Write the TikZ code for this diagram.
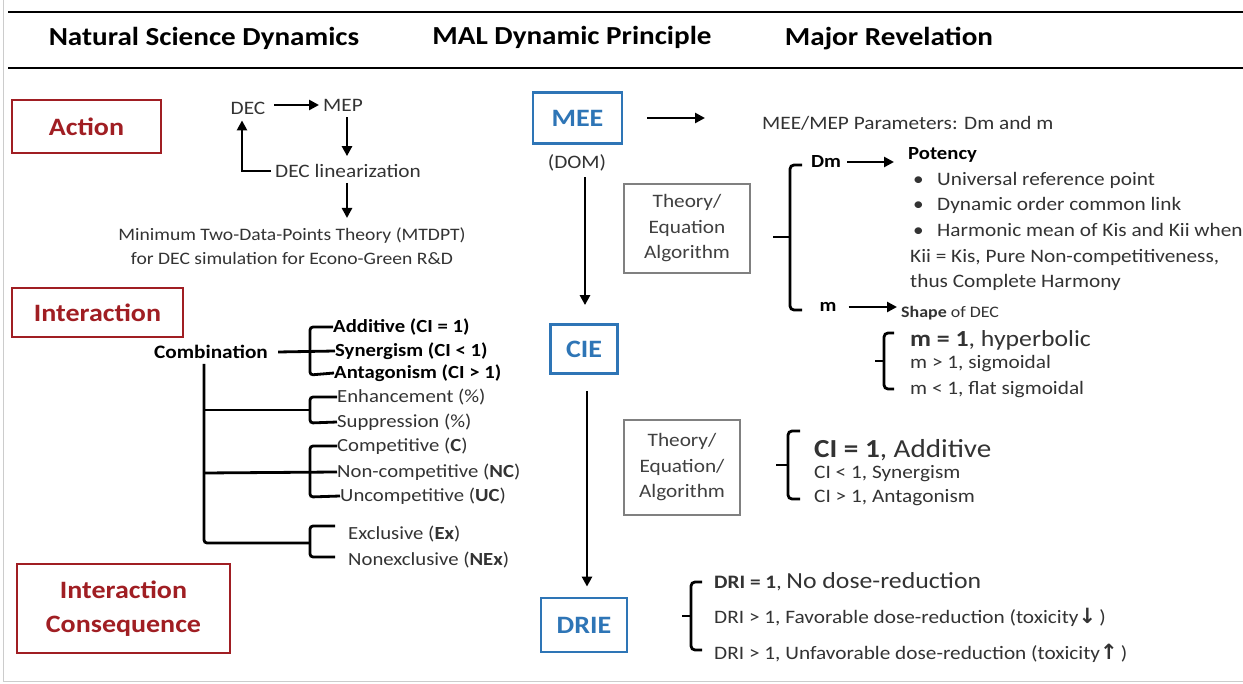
\documentclass[tikz,border=0pt]{standalone}
\usepackage{fontspec}
\setmainfont{Carlito}[FakeStretch=1.12]
\newfontfamily\djv{DejaVu Sans}
\usetikzlibrary{arrows.meta,calc}
\definecolor{myred}{HTML}{A01E23}
\definecolor{myblue}{HTML}{2E75B6}
\definecolor{txt}{HTML}{333333}
\definecolor{boxgray}{HTML}{808080}
\newcommand\fsz[2]{\fontsize{#1}{#2}\selectfont}
\newcommand\brk[6]{\draw[ln,rounded corners=4pt] (#6,#2) -- (#1,#2) -- (#1,#3) -- (#6,#3); \draw[ln] (#5,#4) -- (#1,#4);}
\begin{document}
\begin{tikzpicture}[x=1pt,y=-1pt,
  redbox/.style={draw=myred,line width=2.8pt,text=myred,font=\fsz{25}{34}\bfseries,align=center,inner sep=0pt},
  bluebox/.style={draw=myblue,line width=2.8pt,text=myblue,font=\fsz{25}{29}\bfseries,inner sep=0pt},
  graybox/.style={draw=boxgray,line width=1.3pt,text=black!75,font=\fsz{19}{25.5},align=center,inner sep=0pt},
  hd/.style={font=\fsz{26}{30}\bfseries,inner sep=0pt},
  tx/.style={text=txt,font=\fsz{19}{23},inner sep=0pt,anchor=west},
  tb/.style={text=black,font=\fsz{18.5}{22}\bfseries,inner sep=0pt,anchor=west},
  ln/.style={line width=2.8pt},
  arr/.style={line width=2.5pt,-{Triangle[length=10pt,width=10pt]}},
]
\useasboundingbox (0,0) rectangle (1243,684);
\fill[white] (0,0) rectangle (1243,684);
\draw[black!20,line width=1pt] (3,0) -- (3,681) -- (1243,681);

% header
\draw[line width=2.6pt] (8,12) -- (1243,12);
\draw[line width=2.6pt] (8,68) -- (1243,68);
\node[hd] (h1) at (204,38) {Natural Science Dynamics};
\node[hd] (h2) at (572,37) {MAL Dynamic Principle};
\node[hd] (h3) at (889,39) {Major Revelation};

% red boxes
\node[redbox,minimum width=149pt,minimum height=53pt] (action) at (86.5,126.5) {Action};
\node[redbox,minimum width=171pt,minimum height=49pt] (inter) at (97.5,312.5) {Interaction};
\node[redbox,minimum width=213pt,minimum height=89pt] (cons) at (123.5,608.5) {Interaction\\Consequence};

% action loop
\node[tx,anchor=center] (dec) at (248,108) {DEC};
\node[tx,anchor=center] (mep) at (343,105) {MEP};
\node[tx] (declin) at (275,171) {DEC linearization};
\node[tx,anchor=center,font=\fsz{17.5}{22}] (mt1) at (292,236) {Minimum Two-Data-Points Theory (MTDPT)};
\node[tx,anchor=center,font=\fsz{17.5}{22}] (mt2) at (292,258) {for DEC simulation for Econo-Green R\&D};
\draw[arr,shorten <=9pt,shorten >=4pt] (mep.west -| dec.east) -- (mep.west);
\draw[arr] ($(mep.south)+(4,6)$) -- ($(mep.south |- declin.north)+(4,-8)$);
\draw[arr] ($(declin.west)+(-4,0)$) -| ($(dec.south)+(-6,6)$);
\draw[arr] ($(mep.south |- declin.south)+(4,5)$) -- ($(mep.south |- mt1.north)+(4,-10)$);

% centre column
\node[bluebox,minimum width=89pt,minimum height=51pt] (mee) at (577.5,118) {MEE};
\node[tx,anchor=center] (dom) at (577,163) {(DOM)};
\node[bluebox,minimum width=67pt,minimum height=49pt] (cie) at (584,349) {CIE};
\node[bluebox,minimum width=86pt,minimum height=54pt] (drie) at (584,625) {DRIE};
\node[tx] (params) at (762,123) {MEE/MEP Parameters: Dm and m};
\draw[arr] ([xshift=24pt]mee.east) -- ([xshift=-57pt]mee.east -| params.west);
\draw[arr] ($(dom.south)+(8,6)$) -- ($(cie.north)+(1,-18)$);
\draw[arr] ($(cie.south)+(3,16)$) -- ($(drie.north)+(3,-10)$);
\node[graybox,minimum width=126pt,minimum height=89pt] (th1) at (687,228.5) {Theory/\\Equation\\Algorithm};
\node[graybox,minimum width=116pt,minimum height=95pt] (th2) at (682,467.5) {Theory/\\Equation/\\Algorithm};

% Dm / m
\brk{790}{165}{310}{237}{773}{802}
\node[tb,anchor=center] (dm) at (826,162) {Dm};
\node[tb] (pot) at (908,155) {Potency};
\draw[arr,shorten <=6pt,shorten >=14pt] (dm.east) -- (dm.east -| pot.west);
\node[tx] (u1) at (913,180) {\makebox[24pt][l]{•}Universal reference point};
\node[tx] (u2) at (913,205) {\makebox[24pt][l]{•}Dynamic order common link};
\node[tx] (u3) at (913,230) {\makebox[24pt][l]{•}Harmonic mean of Kis and Kii when};
\node[tx] (u4) at (910,257) {Kii = Kis, Pure Non-competitiveness,};
\node[tx] (u5) at (910,282) {thus Complete Harmony};
\node[tb,anchor=center] (mm) at (828,307) {m};
\node[tx,font=\fsz{16}{19}] (shape) at (901,313) {\textbf{Shape} of DEC};
\draw[arr,shorten <=12pt,shorten >=4pt] (mm.east) -- (mm.east -| shape.west);
\brk{884}{333}{389}{361}{875}{894}
\node[tx,font=\fsz{23}{27}] (m1) at (910,340) {\textbf{m = 1}, hyperbolic};
\node[tx] (m2) at (910,364) {m > 1, sigmoidal};
\node[tx] (m3) at (910,390) {m < 1, flat sigmoidal};

% CI
\brk{788}{431}{499}{465}{776}{800}
\node[tx,font=\fsz{26}{30}] (ci1) at (814,450) {\textbf{CI = 1}, Additive};
\node[tx] (ci2) at (814,474) {CI < 1, Synergism};
\node[tx] (ci3) at (814,498) {CI > 1, Antagonism};

% DRI
\brk{691}{582}{650}{616}{682}{702}
\node[tx] (dri1) at (714,582) {\textbf{DRI = 1}, {\fsz{23}{27}No dose-reduction}};
\node[tx] (dri2) at (714,617) {DRI > 1, Favorable dose-reduction (toxicity{\djv\bfseries\fsz{21}{23}↓}\,)};
\node[tx] (dri3) at (714,653) {DRI > 1, Unfavorable dose-reduction (toxicity{\djv\bfseries\fsz{21}{23}↑}\,)};

% interaction tree
\node[tb,anchor=center,font=\fsz{19}{22}\bfseries] (comb) at (211,352) {Combination};
\node[tb] (add) at (333,327) {Additive (CI = 1)};
\node[tb] (syn) at (335,351) {Synergism (CI < 1)};
\node[tb] (ant) at (334,373) {Antagonism (CI > 1)};
\node[tx,font=\fsz{18.5}{22}] (enh) at (337,397) {Enhancement (\%)};
\node[tx,font=\fsz{18.5}{22}] (sup) at (337,422) {Suppression (\%)};
\node[tx,font=\fsz{18.5}{22}] (comp) at (337,446) {Competitive (\textbf{C})};
\node[tx,font=\fsz{18.5}{22}] (nonc) at (337,472) {Non-competitive (\textbf{NC})};
\node[tx,font=\fsz{18.5}{22}] (unc) at (340,496) {Uncompetitive (\textbf{UC})};
\node[tx,font=\fsz{18.5}{22}] (exc) at (348,534) {Exclusive (\textbf{Ex})};
\node[tx,font=\fsz{18.5}{22}] (nex) at (348,560) {Nonexclusive (\textbf{NEx})};

\draw[ln] (comb.east) ++(10,0) -- (syn.west);
\draw[ln,rounded corners=3pt] (add.west) -- (310,327) -- (310,375) -- (ant.west);
\draw[ln,rounded corners=3pt] ($(comb.south)+(-7,5)$) -- (204,543) -- (310,543);
\draw[ln] (204,410) -- (310,410);
\draw[ln] (204,473) -- (nonc.west);
\draw[ln,rounded corners=3pt] (enh.west) -- (310,397) -- (310,423) -- (sup.west);
\draw[ln,rounded corners=3pt] (comp.west) -- (310,446) -- (310,497) -- (unc.west);
\draw[ln,rounded corners=3pt] (335,526) -- (310,526) -- (310,557) -- (335,557);
\end{tikzpicture}
\end{document}
